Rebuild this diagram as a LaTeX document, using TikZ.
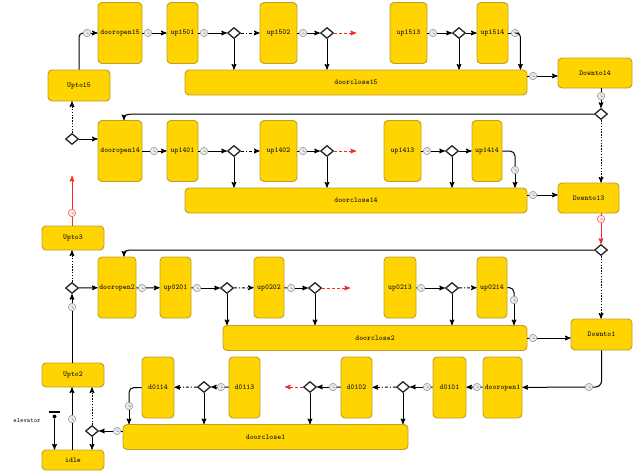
\documentclass[tikz,border=0pt]{standalone}
\usepackage{tikz}
\usetikzlibrary{arrows, positioning, calc, shapes.geometric}
\definecolor{stfill}{RGB}{255,212,0}
\definecolor{stline}{RGB}{190,158,40}
\tikzset{
    statenode/.style = {draw=stline, fill=stfill, rounded corners=4pt, line width=0.9pt,
        inner sep=1pt, font=\ttfamily\bfseries\fontsize{7.5}{8}\selectfont, text=black!90},
    tallbox/.style = {statenode, minimum width=#1, minimum height=61},
    longbox/.style = {statenode, minimum width=#1, minimum height=25},
    choice/.style = {diamond, draw=black!85, fill=white, line width=1.3pt,
        minimum width=13, minimum height=11, inner sep=0pt},
    timer/.style = {circle, draw=black!45, fill=black!8, line width=0.5pt,
        minimum size=7.5, inner sep=0pt, path picture={
            \draw[black!55, line width=0.4pt] (path picture bounding box.center) -- ++(0,-2.4)
                (path picture bounding box.center) -- ++(1.7,0.9);}},
    redtimer/.style = {timer, draw=red!75, fill=red!8},
    flow/.style = {line width=1pt},
    redflow/.style = {flow, draw=red!85, densely dashed},
    alt/.style = {flow, dash pattern=on 3pt off 2pt on 1pt off 2pt},
    guard/.style = {flow, dash pattern=on 1.4pt off 1.4pt},
}

\begin{document}
\begin{tikzpicture}[x=1pt, y=-1pt, >=stealth']
    \useasboundingbox (0,0) rectangle (634,471);
    % floor 15
    \node [statenode, minimum width=62, minimum height=31] (upto15) at (79,85.5) {Upto15};
    \node [tallbox=44] (open15) at (120,33) {dooropen15};
    \node [tallbox=31] (up1501) at (182.5,33) {up1501};
    \node [tallbox=37] (up1502) at (278.5,33) {up1502};
    \node [tallbox=37] (up1513) at (408.5,33) {up1513};
    \node [tallbox=31] (up1514) at (492.5,33) {up1514};
    \node [longbox=342] (close15) at (356,82.5) {doorclose15};
    \node [statenode, minimum width=74, minimum height=30] (down14) at (595,73) {Downto14};
    \node [choice] (c1501) at (234,33) {};
    \node [choice] (c1502) at (327,33) {};
    \node [choice] (c1513) at (459,33) {};
    \node [choice] (c15r) at (601,114) {};
    \node [timer] (t15a) at (87,33) {};
    \node [timer] (t15b) at (148,33) {};
    \node [timer] (t15c) at (204,33) {};
    \node [timer] (t15d) at (303,33) {};
    \node [timer] (t15e) at (433,33) {};
    \node [timer] (t15f) at (515,33) {};
    \node [timer] (t15g) at (533,76) {};
    \node [timer] (t15h) at (601,96) {};
    \coordinate (more15) at (356,33);
    \draw [flow, rounded corners=4] (upto15.north) |- (t15a);
    \draw [flow, ->] (t15a) -- (open15);
    \draw [flow] (open15) -- (t15b);
    \draw [flow, ->] (t15b) -- (up1501);
    \draw [flow] (up1501) -- (t15c);
    \draw [flow, ->] (t15c) -- (c1501);
    \draw [alt, ->] (c1501) -- (up1502);
    \draw [flow, ->] (c1501) -- (c1501 |- close15.north);
    \draw [flow] (up1502) -- (t15d);
    \draw [flow, ->] (t15d) -- (c1502);
    \draw [redflow, ->] (c1502) -- (more15);
    \draw [flow, ->] (c1502) -- (c1502 |- close15.north);
    \draw [flow] (up1513) -- (t15e);
    \draw [flow, ->] (t15e) -- (c1513);
    \draw [flow, ->] (c1513) -- (up1514);
    \draw [flow, ->] (c1513) -- (c1513 |- close15.north);
    \draw [flow] (up1514) -- (t15f);
    \draw [flow, ->, rounded corners=4] (t15f) -| ($(close15.north east)+(-7,0)$);
    \draw [flow] (close15.east |- t15g) -- (t15g);
    \draw [flow, ->] (t15g) -- (down14.west |- t15g);
    \draw [flow] (down14.south -| t15h) -- (t15h);
    \draw [flow, ->] (t15h) -- (c15r);

    % floor 14
    \node [choice] (c14l) at (72,139) {};
    \node [tallbox=44] (open14) at (120,151) {dooropen14};
    \node [tallbox=31] (up1401) at (182.5,151) {up1401};
    \node [tallbox=37] (up1402) at (278.5,151) {up1402};
    \node [tallbox=37] (up1413) at (402.5,151) {up1413};
    \node [tallbox=30] (up1414) at (487,151) {up1414};
    \node [longbox=342] (close14) at (356,200.5) {doorclose14};
    \node [statenode, minimum width=61, minimum height=30] (down13) at (588.5,198) {Downto13};
    \node [choice] (c1401) at (234,151) {};
    \node [choice] (c1402) at (327,151) {};
    \node [choice] (c1413) at (452,151) {};
    \node [timer] (t14a) at (154,151) {};
    \node [timer] (t14b) at (204,151) {};
    \node [timer] (t14c) at (303,151) {};
    \node [timer] (t14d) at (427,151) {};
    \node [timer] (t14e) at (515,170) {};
    \node [timer] (t14f) at (533,195) {};
    \node [redtimer] (t14g) at (601,219) {};
    \coordinate (more14) at (356,151);
    \draw [flow, ->] (c15r) -- ($(open14.north |- c15r)+(18,0)$) .. controls +(-12,0) and +(0,-5) .. ([xshift=4]open14.north);
    \draw [guard, ->] (c15r) -- (c15r |- down13.north);
    \draw [guard, ->] (c14l) -- (c14l |- upto15.south);
    \draw [flow, ->] (c14l) -- (open14.west |- c14l);
    \draw [flow] (open14) -- (t14a);
    \draw [flow, ->] (t14a) -- (up1401);
    \draw [flow] (up1401) -- (t14b);
    \draw [flow, ->] (t14b) -- (c1401);
    \draw [alt, ->] (c1401) -- (up1402);
    \draw [flow, ->] (c1401) -- (c1401 |- close14.north);
    \draw [flow] (up1402) -- (t14c);
    \draw [flow, ->] (t14c) -- (c1402);
    \draw [redflow, ->] (c1402) -- (more14);
    \draw [flow, ->] (c1402) -- (c1402 |- close14.north);
    \draw [flow] (up1413) -- (t14d);
    \draw [flow, ->] (t14d) -- (c1413);
    \draw [flow, ->] (c1413) -- (up1414);
    \draw [flow, ->] (c1413) -- (c1413 |- close14.north);
    \draw [flow, rounded corners=5] (up1414.east) -| (t14e);
    \draw [flow, ->] (t14e) -- (t14e |- close14.north);
    \draw [flow] (close14.east |- t14f) -- (t14f);
    \draw [flow, ->] (t14f) -- (down13.west |- t14f);

    % floor 2
    \node [statenode, minimum width=62, minimum height=24] (upto3) at (73,238) {Upto3};
    \node [redtimer] (t3) at (72,213) {};
    \coordinate (more3) at (72,176);
    \node [choice] (c2r) at (601,250) {};
    \node [choice] (c2l) at (72,288) {};
    \node [tallbox=38] (open2) at (117,287.5) {dooropen2};
    \node [tallbox=31] (up0201) at (175.5,287.5) {up0201};
    \node [tallbox=30] (up0202) at (269,287.5) {up0202};
    \node [tallbox=32] (up0213) at (400,287.5) {up0213};
    \node [tallbox=30] (up0214) at (492,287.5) {up0214};
    \node [longbox=304] (close2) at (375,338) {doorclose2};
    \node [statenode, minimum width=61, minimum height=31] (down1) at (601.5,334.5) {Downto1};
    \node [choice] (c0201) at (227,288) {};
    \node [choice] (c0202) at (315,288) {};
    \node [choice] (c0213) at (452,288) {};
    \node [timer] (t2a) at (72,307) {};
    \node [timer] (t2b) at (142,288) {};
    \node [timer] (t2c) at (197,288) {};
    \node [timer] (t2d) at (291,288) {};
    \node [timer] (t2e) at (421,288) {};
    \node [timer] (t2f) at (514,300) {};
    \node [timer] (t2g) at (533,338) {};
    \coordinate (more2) at (350,288);
    \draw [flow, draw=red!85] (upto3.north -| t3) -- (t3);
    \draw [flow, draw=red!85, ->] (t3) -- (more3);
    \draw [flow, draw=red!85] (down13.south -| t14g) -- (t14g);
    \draw [flow, draw=red!85, ->] (t14g) -- (c2r);
    \draw [flow, ->] (c2r) -- ($(open2.north |- c2r)+(18,0)$) .. controls +(-12,0) and +(0,-5) .. ([xshift=7]open2.north);
    \draw [guard, ->] (c2r) -- (c2r |- down1.north);
    \draw [guard, ->] (c2l) -- (c2l |- upto3.south);
    \draw [flow, ->] (c2l) -- (open2);
    \draw [flow] (open2) -- (t2b);
    \draw [flow, ->] (t2b) -- (up0201);
    \draw [flow] (up0201) -- (t2c);
    \draw [flow, ->] (t2c) -- (c0201);
    \draw [alt, ->] (c0201) -- (up0202);
    \draw [flow, ->] (c0201) -- (c0201 |- close2.north);
    \draw [flow] (up0202) -- (t2d);
    \draw [flow, ->] (t2d) -- (c0202);
    \draw [redflow, ->] (c0202) -- (more2);
    \draw [flow, ->] (c0202) -- (c0202 |- close2.north);
    \draw [flow] (up0213) -- (t2e);
    \draw [flow, ->] (t2e) -- (c0213);
    \draw [alt, ->] (c0213) -- (up0214);
    \draw [flow, ->] (c0213) -- (c0213 |- close2.north);
    \draw [flow, rounded corners=5] (up0214.east) -| (t2f);
    \draw [flow, ->] (t2f) -- (t2f |- close2.north);
    \draw [flow] (close2.east |- t2g) -- (t2g);
    \draw [flow, ->] (t2g) -- (down1.west |- t2g);

    % floor 1
    \node [statenode, minimum width=62, minimum height=24] (upto2) at (73,375) {Upto2};
    \node [statenode, minimum width=62, minimum height=20] (idle) at (73,460) {idle};
    \node [tallbox=32] (d0114) at (158,387.5) {d0114};
    \node [tallbox=31] (d0113) at (244.5,387.5) {d0113};
    \node [tallbox=31] (d0102) at (356.5,387.5) {d0102};
    \node [tallbox=33] (d0101) at (449.5,387.5) {d0101};
    \node [tallbox=39] (open1) at (502.5,387.5) {dooropen1};
    \node [longbox=285] (close1) at (265.5,437) {doorclose1};
    \node [choice] (c0113) at (204,387) {};
    \node [choice] (c0102) at (310,387) {};
    \node [choice] (c0101) at (403,387) {};
    \node [choice] (c1l) at (92,431) {};
    \node [timer] (t1a) at (589,387) {};
    \node [timer] (t1b) at (477,387) {};
    \node [timer] (t1c) at (427,387) {};
    \node [timer] (t1d) at (333,387) {};
    \node [timer] (t1e) at (221,387) {};
    \node [timer] (t1f) at (129,406) {};
    \node [timer] (t1g) at (117,431) {};
    \node [timer] (t1h) at (72,419) {};
    \coordinate (more1) at (285,387);
    \node [fill=black, inner sep=0pt, minimum width=11, minimum height=2] (initbar) at (54.5,412) {};
    \node [circle, fill=black, inner sep=0pt, minimum size=4] (initdot) at (54.5,416.5) {};
    \node [font=\ttfamily\bfseries\fontsize{6.5}{7}\selectfont, text=black!90] (elevator) at (27,421) {elevator};
    \draw [flow] (upto2.north -| t2a) -- (t2a);
    \draw [flow, ->] (t2a) -- (c2l);
    \draw [flow, rounded corners=6] (down1.south) |- (t1a);
    \draw [flow, ->] (t1a) -- (open1);
    \draw [flow] (open1) -- (t1b);
    \draw [flow, ->] (t1b) -- (d0101);
    \draw [flow] (d0101) -- (t1c);
    \draw [flow, ->] (t1c) -- (c0101);
    \draw [alt, ->] (c0101) -- (d0102);
    \draw [flow, ->] (c0101) -- (c0101 |- close1.north);
    \draw [flow] (d0102) -- (t1d);
    \draw [flow, ->] (t1d) -- (c0102);
    \draw [redflow, ->] (c0102) -- (more1);
    \draw [flow, ->] (c0102) -- (c0102 |- close1.north);
    \draw [flow] (d0113) -- (t1e);
    \draw [flow, ->] (t1e) -- (c0113);
    \draw [alt, ->] (c0113) -- (d0114);
    \draw [flow, ->] (c0113) -- (c0113 |- close1.north);
    \draw [flow, rounded corners=5] (d0114.west) -| (t1f);
    \draw [flow, ->] (t1f) -- (t1f |- close1.north);
    \draw [flow] (close1.west |- t1g) -- (t1g);
    \draw [flow, ->] (t1g) -- (c1l);
    \draw [guard, ->] (c1l) -- (c1l |- upto2.south);
    \draw [flow, ->] (c1l) -- (c1l |- idle.north);
    \draw [flow] (idle.north -| t1h) -- (t1h);
    \draw [flow, ->] (t1h) -- (t1h |- upto2.south);
    \draw [flow, ->] (initdot) -- (initdot |- idle.north);
\end{tikzpicture}
\end{document}
